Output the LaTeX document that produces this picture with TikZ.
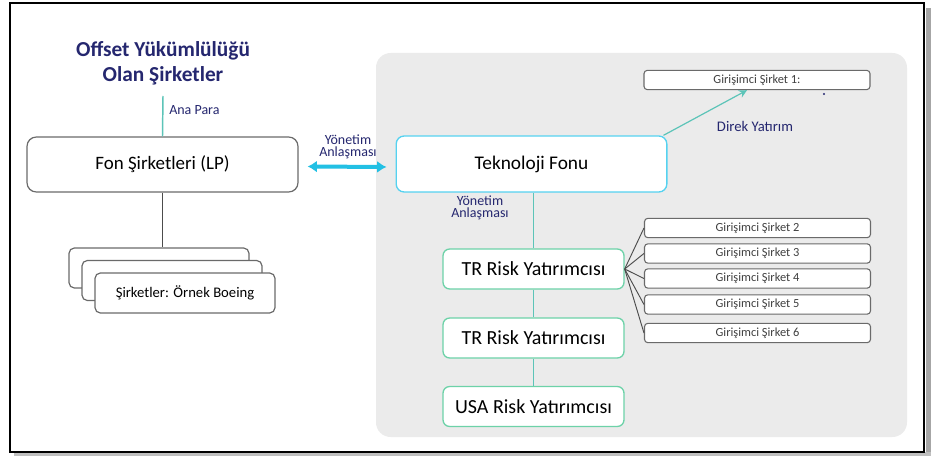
\documentclass[tikz,border=0pt]{standalone}
\usepackage{fontspec}
\setmainfont{Carlito}
\usetikzlibrary{arrows.meta}
\definecolor{navy}{HTML}{25276F}
\definecolor{panel}{HTML}{EBEBEB}
\definecolor{cyanb}{HTML}{55D2F0}
\definecolor{arrowc}{HTML}{22C0E4}
\definecolor{tealline}{HTML}{5CC4B8}
\definecolor{greenb}{HTML}{6DD2A8}
\definecolor{boxgray}{HTML}{6A6A6A}
\tikzset{
  px/.style={x=0.75pt,y=-0.75pt},
  graybox/.style={draw=boxgray,line width=0.9pt,rounded corners=4pt,fill=white,inner sep=0pt},
  bigbox/.style={graybox,rounded corners=7pt,font=\fontsize{14.2}{16}\selectfont},
  smallbox/.style={graybox,rounded corners=2.5pt,line width=0.8pt,minimum width=169.5pt,minimum height=14.5pt,font=\fontsize{9.3}{10}\selectfont,text=black!75},
  fundbox/.style={draw=cyanb,line width=1pt,rounded corners=6pt,fill=white,minimum width=203pt,minimum height=42pt,font=\fontsize{14.5}{16}\selectfont},
  riskbox/.style={draw=greenb,line width=1pt,rounded corners=5pt,fill=white,minimum width=135.75pt,minimum height=30pt,font=\fontsize{15}{16}\selectfont},
  lbl/.style={text=navy,font=\fontsize{10.5}{9.5}\selectfont,align=center,inner sep=0pt},
  tline/.style={draw=tealline,line width=1.1pt},
  gline/.style={draw=black!70,line width=0.7pt}
}
\begin{document}
\begin{tikzpicture}[px]
\useasboundingbox (0,0) rectangle (932,456);
% frame with shadow
\fill[black!35] (926,8) rectangle (931,456);
\fill[black!25] (14,452) rectangle (931,456);
\draw[black,line width=0.9pt,fill=white] (10,3) rectangle (924,452);
% gray panel
\fill[panel,rounded corners=11pt] (376,53) rectangle (907,437);

% title
\node[text=navy,font=\bfseries\fontsize{16}{18.5}\selectfont,align=center,inner sep=0pt] (title) at (163,63) {Offset Yükümlülüğü\\Olan Şirketler};
\coordinate (t1) at (163,96);

% Fon
\node[bigbox,minimum width=203.25pt,minimum height=41.25pt] (fon) at (162.5,164.5) {Fon Şirketleri (LP)};
\draw[tline] (t1) -- (fon.north);
\node[lbl,anchor=west] (ana) at (169,110) {Ana Para};

% stacked boxes
\node[graybox,minimum width=135pt,minimum height=30pt] (sa) at (159,268) {};
\node[graybox,minimum width=135pt,minimum height=30pt] (sb) at (172,280.5) {};
\node[graybox,minimum width=135pt,minimum height=30pt,font=\fontsize{11}{12}\selectfont] (sc) at (185,293) {Şirketler: Örnek Boeing};
\draw[gline] (fon.south) -- (fon.south |- sa.north);

% Teknoloji Fonu
\node[fundbox] (tek) at (531.5,164) {Teknoloji Fonu};
\path (fon.east)++(9,2) coordinate (a1) (tek.west)++(-9,3) coordinate (a2);
\draw[{Latex[length=7pt,width=9pt]}-{Latex[length=7pt,width=9pt]},draw=arrowc,color=arrowc,line width=3pt] (a1) -- (a2);
\node[lbl] (yon1) at (348,147) {Yönetim\\Anlaşması};

% Girişimci 1
\node[smallbox] (g1) at (757,80) {Girişimci Şirket 1:};
\path (tek.north east)++(-4,0) coordinate (te);
\draw[-{Stealth[length=6pt,width=6pt]},draw=tealline,color=tealline,line width=0.9pt] (te) -- ([xshift=-7.5pt]g1.south);
\node[lbl,font=\fontsize{11}{12}\selectfont] (direk) at (755,126) {Direk Yatırım};
\fill[navy] (824,94) circle (1.2);

% risk chain
\node[lbl] (yon2) at (480,208) {Yönetim\\Anlaşması};
\node[riskbox] (tr1) at (533.5,269) {TR Risk Yatırımcısı};
\node[riskbox] (tr2) at (533.5,338) {TR Risk Yatırımcısı};
\node[riskbox] (usa) at (533.5,406.5) {USA Risk Yatırımcısı};
\draw[tline] (tek.south -| tr1.north) -- (tr1.north);
\draw[tline] (tr1) -- (tr2);
\draw[tline] (tr2) -- (usa);

% Girişimci 2-6
\node[smallbox] (g2) at (757.5,228) {Girişimci Şirket 2};
\node[smallbox] (g3) at (757.5,253.5) {Girişimci Şirket 3};
\node[smallbox] (g4) at (757.5,278.5) {Girişimci Şirket 4};
\node[smallbox] (g5) at (757.5,304.5) {Girişimci Şirket 5};
\node[smallbox] (g6) at (757.5,333) {Girişimci Şirket 6};
\foreach \g in {g2,g3,g4,g5,g6}{\draw[gline] (tr1.east) -- (\g.west);}
\end{tikzpicture}
\end{document}
